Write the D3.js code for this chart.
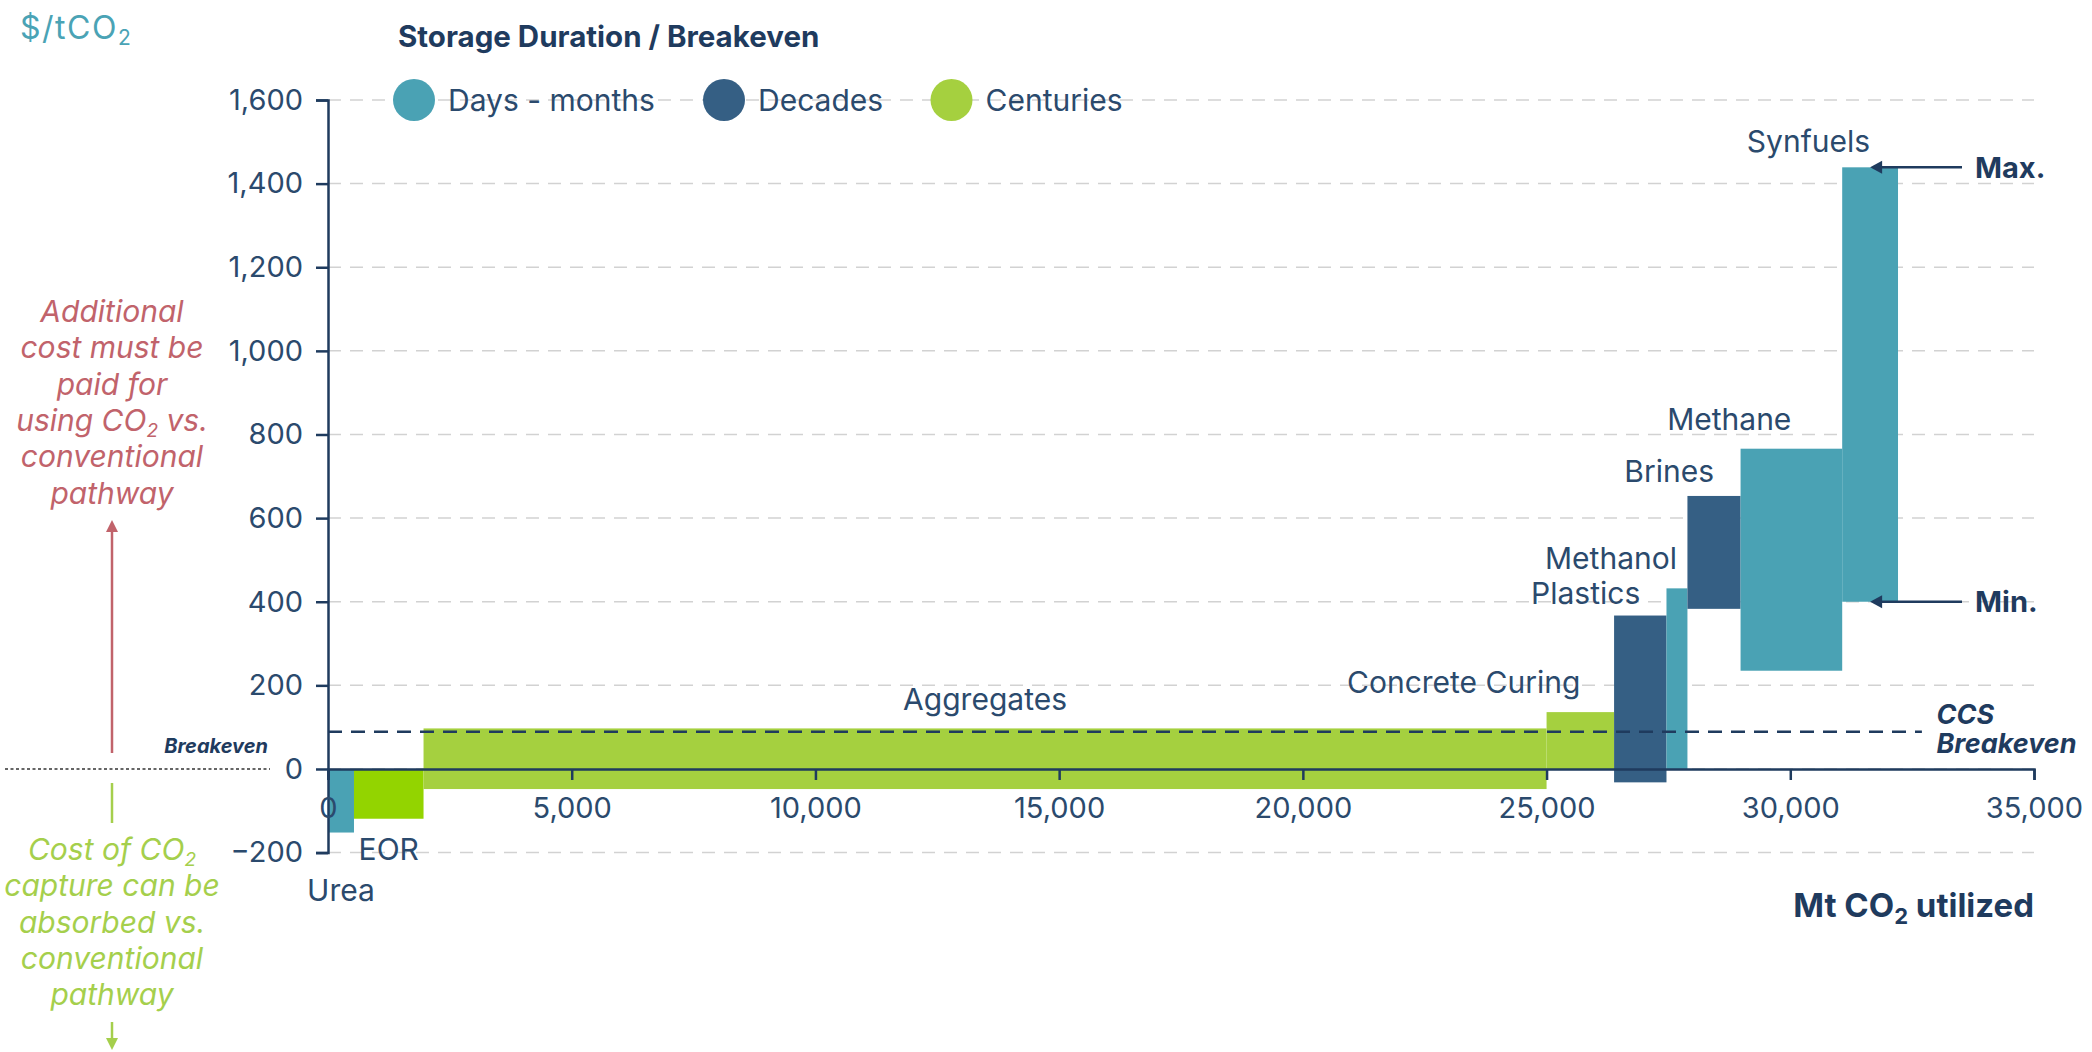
<!DOCTYPE html>
<html lang="en">
<head>
  <meta charset="utf-8">
  <title>CO2 utilization cost curve</title>
  <script src="https://cdn.jsdelivr.net/npm/d3@7"></script>
  <style>
    body { margin: 0; background: #fff; }
    svg { display: block; font-family: Inter, "Noto Sans", sans-serif; }
  </style>
</head>
<body>
<script>

// Data
const pathways  = ["Urea", "EOR", "Aggregates", "Concrete Curing", "Plastics", "Methanol", "Brines", "Methane", "Synfuels"];
const xStart    = [0, 533, 1960, 25000, 26385, 27460, 27890, 28980, 31065];
const xEnd      = [533, 1960, 25000, 26385, 27460, 27890, 28980, 31065, 32210];
const costMin   = [-152, -119, -48, 0, -32, 0, 383, 235, 400];
const costMax   = [0, 0, 97, 136, 367, 432, 653, 766, 1439];
const storage   = ["Days - months", "Centuries", "Centuries", "Centuries", "Decades", "Days - months", "Decades", "Days - months", "Days - months"];
const storageTypes = ["Days - months", "Decades", "Centuries"];
const xTicks = [0, 5000, 10000, 15000, 20000, 25000, 30000, 35000];
const yTicks = [-200, 0, 200, 400, 600, 800, 1000, 1200, 1400, 1600];
const ccsBreakeven = 89;

const bars = pathways.map((name, i) => ({
  name, x0: xStart[i], x1: xEnd[i], lo: costMin[i], hi: costMax[i], type: storage[i]
}));

const navy = "#1f3b5e", textNavy = "#2b4a6d";
const color = d3.scaleOrdinal(storageTypes, ["#4aa2b4", "#355f84", "#a5d03f"]);
const barColor = d => d.name === "EOR" ? "#93d400" : color(d.type);

const W = 2092, H = 1052;
const x = d3.scaleLinear([0, 35000], [328, 2034]);
const y = d3.scaleLinear([-200, 1600], [852.6, 100]);

const svg = d3.select("body").append("svg").attr("width", W).attr("height", H);

// gridlines
svg.append("g").selectAll("line").data(yTicks).join("line")
  .attr("x1", x(0)).attr("x2", x(35000))
  .attr("y1", d => y(d)).attr("y2", d => y(d))
  .attr("stroke", "#d2d2d2").attr("stroke-width", 1.5).attr("stroke-dasharray", "13,9");

// bars
svg.append("g").selectAll("rect").data(bars).join("rect")
  .attr("x", d => x(d.x0)).attr("width", d => x(d.x1) - x(d.x0))
  .attr("y", d => y(d.hi)).attr("height", d => y(d.lo) - y(d.hi))
  .attr("fill", barColor);

// CCS breakeven
svg.append("line")
  .attr("x1", x(0)).attr("x2", x(32700))
  .attr("y1", y(ccsBreakeven)).attr("y2", y(ccsBreakeven))
  .attr("stroke", navy).attr("stroke-width", 2.5).attr("stroke-dasharray", "14,9");
svg.append("text").attr("x", x(33000)).attr("y", 724)
  .attr("fill", navy).attr("font-size", 27).attr("font-weight", 700).attr("font-style", "italic")
  .selectAll("tspan").data(["CCS", "Breakeven"]).join("tspan")
  .attr("x", x(33000)).attr("dy", (d, i) => i ? 29 : 0).text(d => d);

// axes
const yAxis = svg.append("g").attr("transform", `translate(${x(0)},0)`)
  .call(d3.axisLeft(y).tickValues(yTicks).tickFormat(d3.format(",")).tickSize(12).tickPadding(13));
const xAxis = svg.append("g").attr("transform", `translate(0,${y(0)})`)
  .call(d3.axisBottom(x).tickValues(xTicks).tickFormat(d3.format(",")).tickSize(11).tickPadding(17));
[yAxis, xAxis].forEach(g => {
  g.selectAll("path, line").attr("stroke", navy).attr("stroke-width", 2.5);
  g.selectAll("text").attr("fill", textNavy).attr("font-size", 29).attr("font-family", "Inter");
});

// bar labels
const below = { Urea: 68, EOR: 41 };
const above = { Synfuels: 15, Methane: 19, Brines: 14, Methanol: 19, Plastics: 12, "Concrete Curing": 19, Aggregates: 18 };
const centred = ["Urea", "EOR", "Aggregates"];
svg.append("g").selectAll("text").data(bars).join("text")
  .attr("x", d => x((d.x0 + d.x1) / 2))
  .attr("y", d => d.name in below ? y(d.lo) + below[d.name] : y(d.hi) - above[d.name])
  .attr("text-anchor", d => centred.includes(d.name) ? "middle" : "end")
  .attr("fill", textNavy).attr("font-size", 30)
  .text(d => d.name);

// Max / Min markers on Synfuels
const syn = bars[bars.length - 1];
const arrowLeft = (tx, ty) => `M${tx},${ty}l12,-6.5v13z`;
[["Max.", syn.hi], ["Min.", syn.lo]].forEach(([lab, v]) => {
  const tip = x((syn.x0 + syn.x1) / 2);
  svg.append("line").attr("x1", tip + 8).attr("x2", 1962).attr("y1", y(v)).attr("y2", y(v))
    .attr("stroke", navy).attr("stroke-width", 2.5);
  svg.append("path").attr("d", arrowLeft(tip, y(v))).attr("fill", navy);
  svg.append("text").attr("x", 1975).attr("y", y(v)).attr("dy", "0.36em")
    .attr("fill", navy).attr("font-size", 29).attr("font-weight", 700).text(lab);
});

// y title
const yt = svg.append("text").attr("x", 20).attr("y", 39).attr("fill", "#4aa3b5")
  .attr("font-size", 32).attr("letter-spacing", 1.5);
yt.append("tspan").text("$/tCO");
yt.append("tspan").attr("font-size", 21).attr("dy", 6).text("2");

// x title
const xt = svg.append("text").attr("x", 2034).attr("y", 917).attr("text-anchor", "end")
  .attr("fill", navy).attr("font-size", 33).attr("font-weight", 700);
xt.append("tspan").text("Mt CO");
xt.append("tspan").attr("font-size", 22).attr("dy", 7).text("2");
xt.append("tspan").attr("dy", -7).text(" utilized");

// legend
svg.append("text").attr("x", 398).attr("y", 47).attr("fill", navy)
  .attr("font-size", 29.5).attr("font-weight", 700).text("Storage Duration / Breakeven");
const legX = [414, 724, 951.5];
const leg = svg.append("g").selectAll("g").data(storageTypes).join("g")
  .attr("transform", (d, i) => `translate(${legX[i]},100)`);
leg.append("circle").attr("r", 21).attr("fill", d => color(d));
leg.append("text").attr("x", 34).attr("dy", "0.36em").attr("fill", textNavy)
  .attr("font-size", 30).text(d => d);

// left side annotations
svg.append("line").attr("x1", 5).attr("x2", 270).attr("y1", y(0)).attr("y2", y(0))
  .attr("stroke", "#333").attr("stroke-width", 1.5).attr("stroke-dasharray", "3,2.5");
svg.append("text").attr("x", 268).attr("y", 753).attr("text-anchor", "end")
  .attr("fill", navy).attr("font-size", 20).attr("font-weight", 700).attr("font-style", "italic")
  .text("Breakeven");

function note(lines, y0, fill) {
  const t = svg.append("text").attr("text-anchor", "middle").attr("fill", fill)
    .attr("font-size", 30).attr("font-style", "italic");
  lines.forEach((ln, i) => {
    const row = t.append("tspan").attr("x", 112).attr("y", y0 + i * 36.3);
    if (ln.includes("CO2")) {
      const [a, b] = ln.split("CO2");
      row.text(a + "CO");
      t.append("tspan").attr("font-size", 19).attr("dy", 6).text("2");
      t.append("tspan").attr("dy", -6).text(b);
    } else row.text(ln);
  });
}
const red = "#c1636b", green = "#a5cf4c";
note(["Additional", "cost must be", "paid for", "using CO2 vs.", "conventional", "pathway"], 322, red);
note(["Cost of CO2", "capture can be", "absorbed vs.", "conventional", "pathway"], 860, green);

svg.append("line").attr("x1", 112).attr("x2", 112).attr("y1", 753).attr("y2", 530)
  .attr("stroke", red).attr("stroke-width", 2.5);
svg.append("path").attr("d", "M112,520l-6,12h12z").attr("fill", red);
svg.append("line").attr("x1", 112).attr("x2", 112).attr("y1", 783).attr("y2", 823)
  .attr("stroke", green).attr("stroke-width", 2.5);
svg.append("line").attr("x1", 112).attr("x2", 112).attr("y1", 1022).attr("y2", 1040)
  .attr("stroke", green).attr("stroke-width", 2.5);
svg.append("path").attr("d", "M112,1050l-6,-12h12z").attr("fill", green);

</script>
</body>
</html>
